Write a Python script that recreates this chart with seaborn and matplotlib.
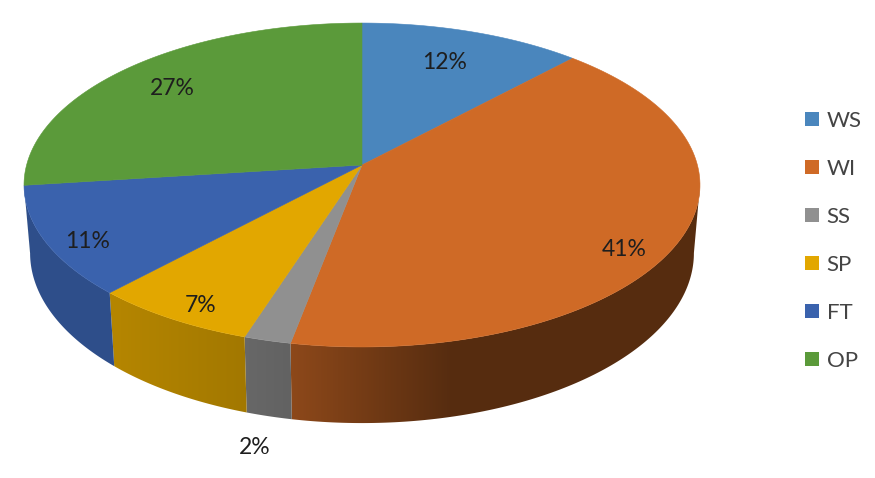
import matplotlib
matplotlib.use("Agg")
import matplotlib.pyplot as plt
from matplotlib.patches import Patch, Polygon
import numpy as np
import seaborn as sns

categories = ["WS", "WI", "SS", "SP", "FT", "OP"]
values = [12, 41, 2, 7, 11, 27]
colors = ["#4a86bd", "#cf6a26", "#909090", "#e2a700", "#3a62ad", "#5b9a3a"]

sns.set_theme(style="white")
plt.rcParams["font.family"] = ["Lato", "DejaVu Sans"]
palette = sns.color_palette(colors)

# pie geometry, in pixels of the image
cx, cy = 362, 165
k = 0.1235


def top_edge(theta):
    # circle seen in perspective, theta runs clockwise from 12 o'clock
    sx, sy = np.sin(theta), np.cos(theta)
    w = 1 + k * sy
    return cx + 335.4 * sx / w, cy - 159.5 * sy / w


def bottom_edge(theta):
    x, y = top_edge(theta)
    return cx + (x - cx) * 0.982, cy + (y - cy) * 1.05 + 67


def wall_shade(x):
    return np.interp(x, [20, 115, 243, 292, 450, 700], [.8, .8, .72, .68, .42, .42])


fig = plt.figure(figsize=(8.75, 4.78), dpi=100)
ax = fig.add_axes([0, 0, 1, 1])

edges = np.radians(np.concatenate([[0], np.cumsum(values)]) * 3.6)

# side wall only between the left and right extremes of the ellipse
vis_lo = np.arccos(-k)
vis_hi = 2 * np.pi - vis_lo
gx = np.arange(0, 876)
for i, col in enumerate(palette):
    start, end = max(edges[i], vis_lo), min(edges[i + 1], vis_hi)
    if end <= start:
        continue
    t = np.linspace(start, end, 120)
    xt, yt = top_edge(t)
    xb, yb = bottom_edge(t)
    grad = np.outer(wall_shade(gx), np.array(col))[None, :, :]
    im = ax.imshow(np.clip(grad, 0, 1), extent=(0, 875, 478, 0), aspect="auto", zorder=1,
                   interpolation="bilinear")
    clip = Polygon(np.c_[np.r_[xt, xb[::-1]], np.r_[yt, yb[::-1]]], transform=ax.transData)
    im.set_clip_path(clip)

for i, col in enumerate(palette):
    t = np.linspace(edges[i], edges[i + 1], 120)
    xt, yt = top_edge(t)
    ax.fill(np.r_[cx, xt], np.r_[cy, yt], color=col, lw=0.4, zorder=2)

label_pos = [(445, 62), (624, 250), (255, 448), (201, 305), (88, 241), (172, 88)]
for v, (lx, ly) in zip(values, label_pos):
    ax.text(lx, ly, f"{v}%", ha="center", va="center", fontsize=16.5, color="#1e1e1e", zorder=3)

ax.set_xlim(0, 875)
ax.set_ylim(478, 0)
ax.axis("off")

handles = [Patch(facecolor=c, edgecolor="none", label=n) for n, c in zip(categories, palette)]
ax.legend(handles=handles, loc="center left", bbox_to_anchor=(805 / 875, 1 - 241 / 478),
          frameon=False, fontsize=16, labelcolor="#444444", handlelength=0.63, handleheight=0.63,
          handletextpad=0.34, labelspacing=1.26, borderpad=0, borderaxespad=0)

fig.savefig("out.png", dpi=100, facecolor="white")
